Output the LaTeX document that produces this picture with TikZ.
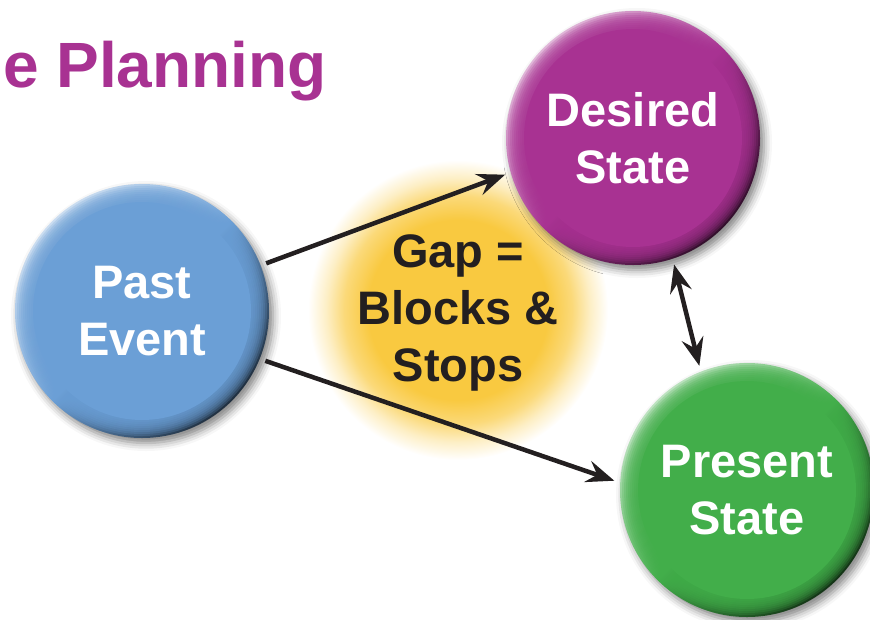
\documentclass[tikz,border=0pt]{standalone}
\usepackage{fontspec}
\setmainfont{Liberation Sans}
\usetikzlibrary{arrows.meta,shadows.blur}
\definecolor{pastblue}{HTML}{6B9FD6}
\definecolor{desiredpurple}{HTML}{A83292}
\definecolor{presentgreen}{HTML}{42AE4A}
\definecolor{gapyellow}{HTML}{F9C940}
\definecolor{inkblack}{HTML}{231F20}
% soft yellow halo behind the gap label (25bp is the rim of the filled circle)
\pgfdeclareradialshading{gapglow}{\pgfpoint{0bp}{0bp}}{color(0bp)=(gapyellow); color(15bp)=(gapyellow); color(19bp)=(gapyellow!70!white); color(22bp)=(gapyellow!30!white); color(25bp)=(white); color(50bp)=(white)}

\begin{document}
\begin{tikzpicture}[x=1pt,y=-1pt,
  button/.style={circle, minimum size=254pt, inner sep=0pt, outer sep=6pt,
    text=white, align=center, font=\fontsize{47}{57}\selectfont\bfseries,
    blur shadow={shadow xshift=4pt, shadow yshift=-5pt, shadow blur radius=8pt, shadow opacity=50},
    top color=#1!35!white, bottom color=#1!30!black, middle color=#1, shading angle=45,
    path picture={
      \foreach \rr in {125,123,...,111}
        \fill[#1, fill opacity=0.22] (path picture bounding box.center) circle (\rr pt);
      \fill[#1] (path picture bounding box.center) circle (109pt);
    }},
  tip/.tip={Stealth[length=28pt,width=22pt,inset=10pt]},
  conn/.style={line width=4.5pt, draw=inkblack, -tip},
  biconn/.style={line width=4.5pt, draw=inkblack, tip-tip},
]
\useasboundingbox (0,0) rectangle (870,619);
\clip (0,0) rectangle (870,619);

% heading
\node[anchor=base west, inner sep=0pt, text=desiredpurple,
      font=\fontsize{64}{72}\selectfont\bfseries] (title) at (3,87) {e Planning};

% gap halo and label
\shade[shading=gapglow] (458,310) circle (150pt);
\node[text=inkblack, align=center, font=\fontsize{47}{57}\selectfont\bfseries]
  (gap) at (458,313) {Gap =\\Blocks \&\\Stops};

% the three states
\node[button=pastblue] (past) at (142,311) {Past\\Event};
\node[button=desiredpurple] (desired) at (633,138) {Desired\\State};
\node[button=presentgreen] (present) at (747,490) {Present\\State};

% connectors
\draw[conn] (past.21) -- (desired.196);
\draw[conn] (past.-22) -- (present.176);
\draw[biconn] (desired.-72) -- (present.111);
\end{tikzpicture}
\end{document}
